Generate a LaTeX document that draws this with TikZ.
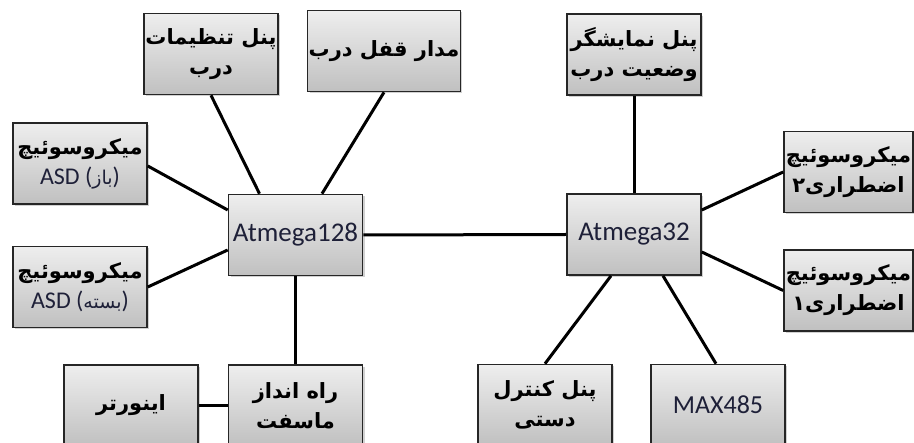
\documentclass[tikz,border=0pt]{standalone}
\usepackage{fontspec}
\usepackage{xcolor}
\usepackage{tikz}
\usetikzlibrary{shadows}
\setmainfont{Carlito}
\newfontfamily\fafont[Script=Arabic]{DejaVu Sans}
\TeXXeTstate=1
\definecolor{boxtop}{HTML}{EEEEEE}
\definecolor{boxbot}{HTML}{C0C0C0}
\definecolor{ink}{HTML}{1E2038}
\newcommand{\fa}[1]{{\fafont\bfseries\beginR #1\endR}}
\newcommand{\fareg}[1]{{\fafont\fontsize{19}{28}\selectfont\beginR #1\endR}}
\newcommand{\lat}[1]{{\color{ink}\fontsize{24}{30}\selectfont #1}}
\tikzset{
  blk/.style={draw=black!85, line width=1.6pt, top color=boxtop, bottom color=boxbot,
    minimum width=134pt, minimum height=81pt, inner sep=1pt, align=center,
    font=\fontsize{21}{30}\selectfont, text=black,
    drop shadow={shadow xshift=2pt, shadow yshift=-2pt, fill=black!30, opacity=0.6}},
  chip/.style={blk, font=\fontsize{27}{30}\selectfont, text=ink},
  link/.style={draw=black, line width=3pt},
}

\begin{document}
\begin{tikzpicture}[x=1pt, y=-1pt]
  \useasboundingbox (0,0) rectangle (914,443);
  % left controller and its parts
  \node[chip] (atm128) at (295.5,235) {Atmega128};
  \node[blk] (tanzim) at (211,54) {\fa{پنل تنظیمات}\\\fa{درب}};
  \node[blk] (ghofl) at (384,51) {\fa{مدار قفل درب}};
  \node[blk] (baz) at (80,163.5) {\fa{میکروسوئیچ}\\\lat{ASD (\fareg{باز})}};
  \node[blk] (baste) at (80,287) {\fa{میکروسوئیچ}\\\lat{ASD (\fareg{بسته})}};
  \node[blk] (rahandaz) at (295.5,405.5) {\fa{راه انداز}\\\fa{ماسفت}};
  \node[blk] (inverter) at (131,405.5) {\fa{اینورتر}};
  % right controller and its parts
  \node[chip] (atm32) at (634,234.5) {Atmega32};
  \node[blk] (namayesh) at (634,54.5) {\fa{پنل نمایشگر}\\\fa{وضعیت درب}};
  \node[blk, minimum width=129pt] (ezt2) at (848.5,172) {\fa{میکروسوئیچ}\\\fa{اضطراری۲}};
  \node[blk, minimum width=129pt] (ezt1) at (848.5,290.5) {\fa{میکروسوئیچ}\\\fa{اضطراری۱}};
  \node[blk] (dasti) at (545,405) {\fa{پنل کنترل}\\\fa{دستی}};
  \node[chip, font=\fontsize{26}{30}\selectfont] (max485) at (718,405) {MAX485};

  \draw[link] (tanzim.south) -- ([xshift=-36pt]atm128.north);
  \draw[link] (ghofl.south) -- ([xshift=26.5pt]atm128.north);
  \draw[link] ([yshift=-2.5pt]baz.east) -- ([yshift=25pt]atm128.west);
  \draw[link] (baste.east) -- ([yshift=-15pt]atm128.west);
  \draw[link] (atm128.south) -- (rahandaz.north);
  \draw[link] (inverter.east) -- (rahandaz.west);
  \draw[link] (atm128.east) -- (atm32.west);
  \draw[link] (namayesh.south) -- (atm32.north);
  \draw[link] ([yshift=24.5pt]atm32.east) -- (ezt2.west);
  \draw[link] ([yshift=-17.5pt]atm32.east) -- (ezt1.west);
  \draw[link] ([xshift=-23pt]atm32.south) -- (dasti.north);
  \draw[link] ([xshift=29pt]atm32.south) -- ([xshift=-2pt]max485.north);
\end{tikzpicture}
\end{document}
